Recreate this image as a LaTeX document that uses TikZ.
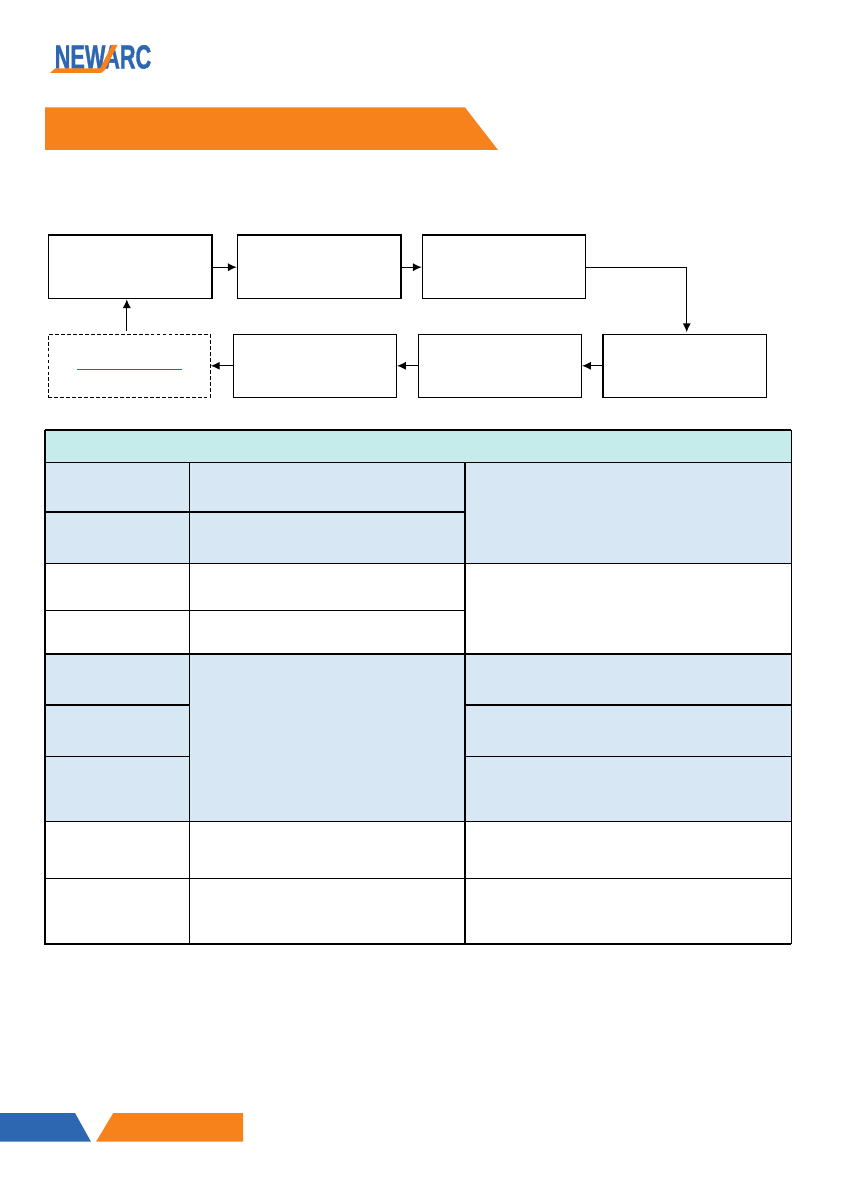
\documentclass[tikz,border=0pt]{standalone}
\usepackage{fontspec}
\setmainfont{Liberation Sans}
\newfontfamily\logofont[FakeBold=1.5]{Liberation Sans}
\usetikzlibrary{calc,arrows.meta}
\definecolor{barorange}{HTML}{F7811A}
\definecolor{barblue}{HTML}{2E67B1}
\definecolor{cellblue}{HTML}{D8E7F4}
\definecolor{headteal}{HTML}{C5ECEB}
\tikzset{
	>={Latex[length=5pt,width=4.6pt]},   % same tip everywhere
	flowbox/.style={draw=black, line width=0.65pt, minimum width=3.26cm, minimum height=1.26cm, inner sep=0pt},
	flowdash/.style={flowbox, minimum width=3.24cm, dash pattern=on 2.2pt off 1.2pt},
	flowedge/.style={black, line width=1.1pt},
	flowarrow/.style={->, line width=0.65pt},
	thinrule/.style={black, line width=0.6pt},
	thickrule/.style={black, line width=1.1pt}
}
\begin{document}
\begin{tikzpicture}[x=0.02cm,y=-0.02cm]
		\useasboundingbox (0,0) rectangle (840,1192);
		
		% logo
		\node[barblue, font=\logofont\bfseries, scale=1.9, xscale=0.65, inner sep=0pt] (logo) at (103,57) {NEWARC};
		\fill[barorange] (50,73) -- (55,68.5) -- (100,68.5) -- (112,45) -- (117.5,45) -- (105,70) -- (101,73) -- cycle;
		
		% title bar
		\fill[barorange] (45,107.5) -- (465,107.5) -- (498,150) -- (45,150) -- cycle;
		
		% flow chart, upper row
		\node[flowbox] (weigh) at (129.8,267.2) {};
		\node[flowbox] (mix) at (318.8,267.2) {};
		\node[flowbox] (pack) at (503.8,267.2) {};
		
		% flow chart, lower row
		\node[flowbox] (ship) at (685.2,365.8) {};
		\node[flowbox] (store) at (500,365.8) {};
		\node[flowbox] (use) at (315,365.8) {};
		\node[flowdash] (back) at (129.3,365.8) {};
		\draw[barblue, line width=0.6pt] (77,369.3) -- (181.7,369.3);
		
		% heavier edges on some of the boxes
		\draw[flowedge] (weigh.north west) -- (weigh.north east) -- (weigh.south east);
		\draw[flowedge] (mix.north west) -- (mix.north east) -- (mix.south east);
		\draw[flowedge] (pack.north west) -- (pack.north east);
		\draw[flowedge] (ship.north west) -- (ship.south west);
		
		% arrows
		\draw[flowarrow] (weigh) -- (mix);
		\draw[flowarrow] (mix) -- (pack);
		\draw[flowarrow] (pack.east) -| ([xshift=0.03cm,yshift=0.03cm]ship.north);
		\draw[flowarrow] (ship) -- (store);
		\draw[flowarrow] (store) -- (use);
		\draw[flowarrow] (use) -- (back);
		\draw[flowarrow, shorten <=0.06cm] ([xshift=-0.05cm]back.north) -- ([xshift=-0.05cm]back.north |- weigh.south);
		
		% table fills
		\fill[headteal] (45,430) rectangle (791.3,462.3);
		\fill[cellblue] (45,462.3) rectangle (791.3,563.3);
		\fill[cellblue] (45,654) rectangle (791.3,821.3);
		
		% table rules, thin
		\draw[thinrule] (45,462.3) -- (791.3,462.3);
		\draw[thinrule] (45,563.3) -- (791.3,563.3);
		\draw[thinrule] (45,610.3) -- (465,610.3);
		\draw[thinrule] (45,756.3) -- (189.3,756.3);
		\draw[thinrule] (465,756.3) -- (791.3,756.3);
		\draw[thinrule] (45,821.3) -- (791.3,821.3);
		\draw[thinrule] (45,878.3) -- (791.3,878.3);
		\draw[thinrule] (189.3,462.3) -- (189.3,943.7);
		\draw[thinrule] (791.3,430) -- (791.3,943.7);
		
		% table rules, thick
		\draw[thickrule] (45,511.7) -- (465,511.7);
		\draw[thickrule] (45,654) -- (791.3,654);
		\draw[thickrule] (45,704.7) -- (189.3,704.7);
		\draw[thickrule] (465,704.7) -- (791.3,704.7);
		\draw[thickrule] (465,462.3) -- (465,943.7);
		\draw[thickrule] (45,430) -- (791.3,430);
		\draw[thickrule] (45,430) -- (45,943.7) -- (791.3,943.7);
		
		% footer
		\fill[barblue] (0,1113) -- (75,1113) -- (91,1141.7) -- (0,1141.7) -- cycle;
		\fill[barorange] (113.3,1113) -- (243,1113) -- (243,1141.7) -- (96,1141.7) -- cycle;
		
	\end{tikzpicture}
\end{document}
